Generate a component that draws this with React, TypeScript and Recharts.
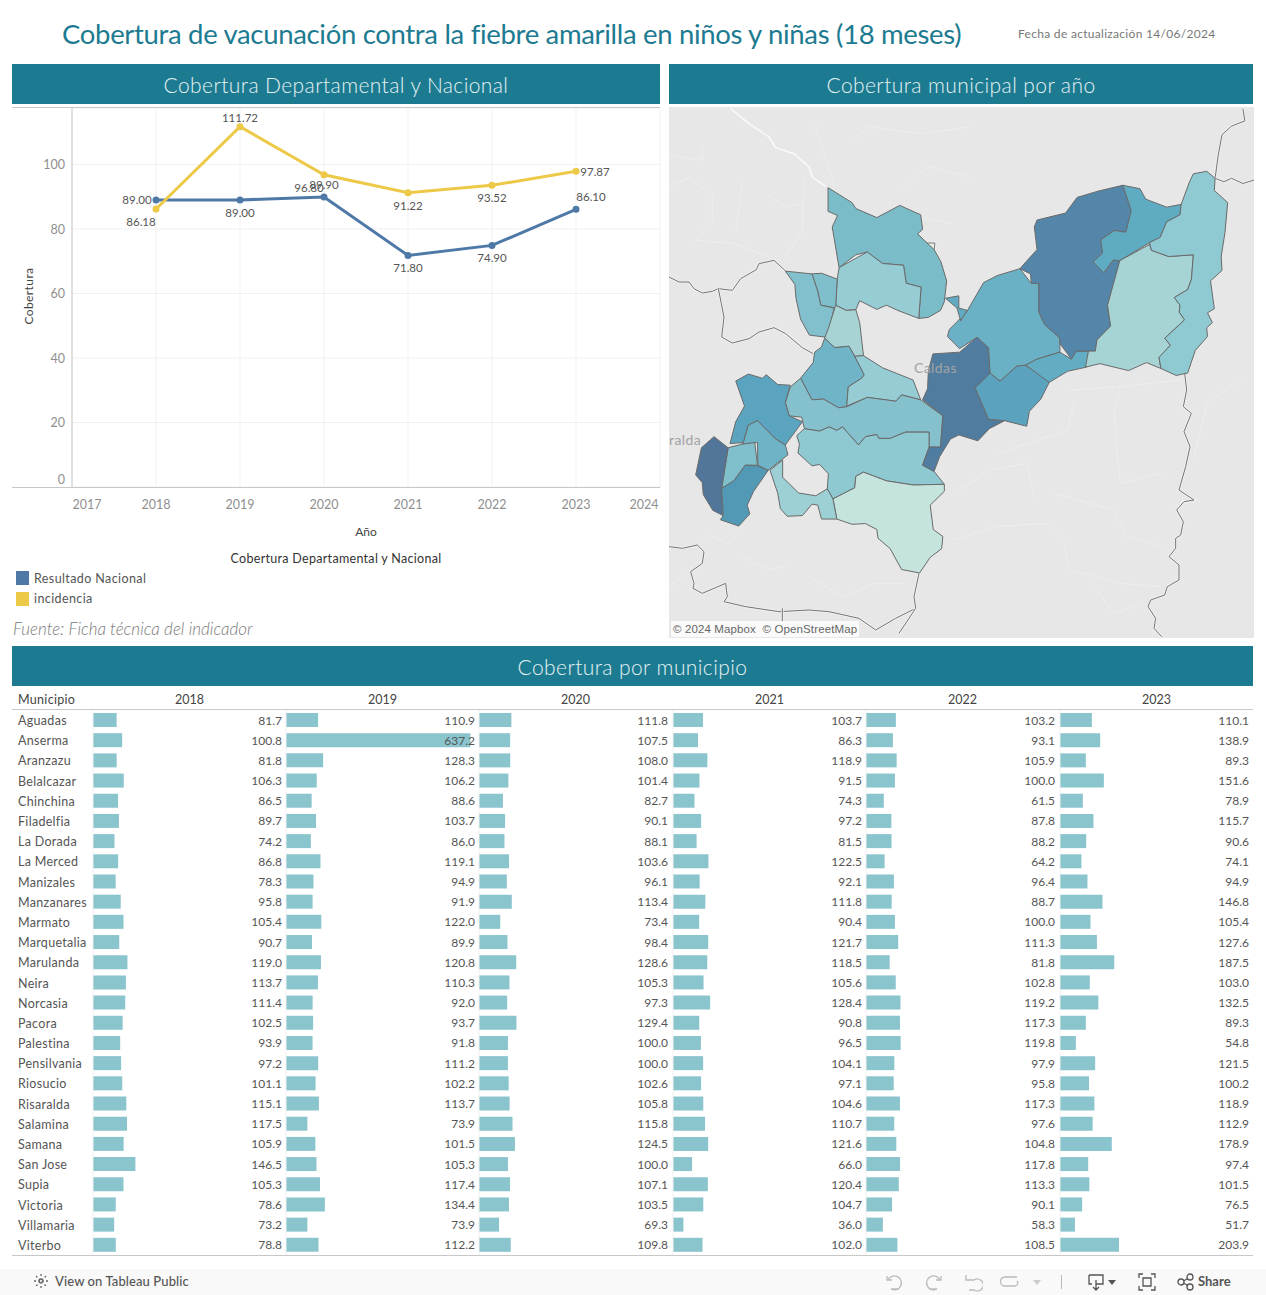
import { CSSProperties, ReactNode } from "react";
import {
  Bar,
  BarChart,
  CartesianGrid,
  LabelList,
  Line,
  LineChart,
  Polygon,
  Scatter,
  ScatterChart,
  XAxis,
  YAxis,
} from "recharts";

const FONT = "Lato, 'Open Sans', sans-serif";
const TEAL = "#1d7b91";

// line chart
const years = [2018, 2019, 2020, 2021, 2022, 2023];
const nacional = [89.0, 89.0, 89.9, 71.8, 74.9, 86.1];
const incidencia = [86.18, 111.72, 96.8, 91.22, 93.52, 97.87];
const yearTicks = [2017, 2018, 2019, 2020, 2021, 2022, 2023, 2024];
const coverTicks = [0, 20, 40, 60, 80, 100];
const lineData = years.map((year, i) => ({ year, nacional: nacional[i], incidencia: incidencia[i] }));

// table
const municipios = [
  "Aguadas", "Anserma", "Aranzazu", "Belalcazar", "Chinchina", "Filadelfia", "La Dorada", "La Merced", "Manizales",
  "Manzanares", "Marmato", "Marquetalia", "Marulanda", "Neira", "Norcasia", "Pacora", "Palestina", "Pensilvania",
  "Riosucio", "Risaralda", "Salamina", "Samana", "San Jose", "Supia", "Victoria", "Villamaria", "Viterbo",
];
const v2018 = [81.7, 100.8, 81.8, 106.3, 86.5, 89.7, 74.2, 86.8, 78.3, 95.8, 105.4, 90.7, 119.0, 113.7, 111.4, 102.5, 93.9, 97.2, 101.1, 115.1, 117.5, 105.9, 146.5, 105.3, 78.6, 73.2, 78.8];
const v2019 = [110.9, 637.2, 128.3, 106.2, 88.6, 103.7, 86.0, 119.1, 94.9, 91.9, 122.0, 89.9, 120.8, 110.3, 92.0, 93.7, 91.8, 111.2, 102.2, 113.7, 73.9, 101.5, 105.3, 117.4, 134.4, 73.9, 112.2];
const v2020 = [111.8, 107.5, 108.0, 101.4, 82.7, 90.1, 88.1, 103.6, 96.1, 113.4, 73.4, 98.4, 128.6, 105.3, 97.3, 129.4, 100.0, 100.0, 102.6, 105.8, 115.8, 124.5, 100.0, 107.1, 103.5, 69.3, 109.8];
const v2021 = [103.7, 86.3, 118.9, 91.5, 74.3, 97.2, 81.5, 122.5, 92.1, 111.8, 90.4, 121.7, 118.5, 105.6, 128.4, 90.8, 96.5, 104.1, 97.1, 104.6, 110.7, 121.6, 66.0, 120.4, 104.7, 36.0, 102.0];
const v2022 = [103.2, 93.1, 105.9, 100.0, 61.5, 87.8, 88.2, 64.2, 96.4, 88.7, 100.0, 111.3, 81.8, 102.8, 119.2, 117.3, 119.8, 97.9, 95.8, 117.3, 97.6, 104.8, 117.8, 113.3, 90.1, 58.3, 108.5];
const v2023 = [110.1, 138.9, 89.3, 151.6, 78.9, 115.7, 90.6, 74.1, 94.9, 146.8, 105.4, 127.6, 187.5, 103.0, 132.5, 89.3, 54.8, 121.5, 100.2, 118.9, 112.9, 178.9, 97.4, 101.5, 76.5, 51.7, 203.9];
const tableYears = ["2018", "2019", "2020", "2021", "2022", "2023"];
const tableSeries = [v2018, v2019, v2020, v2021, v2022, v2023];
const tableLefts = [93, 286, 479, 673, 866, 1060];

// map outlines
type Pt = [number, number];
const regiones: { fill: string; pts: Pt[] }[] = [
  { fill: "#7bbcc9", pts: [[417,252],[480,295],[490,312],[545,338],[605,303],[660,330],[665,372],[652,385],[695,430],[713,465],[728,520],[722,580],[712,605],[680,625],[655,628],[661,538],[622,527],[615,475],[560,470],[520,437],[490,445],[446,482],[428,365],[442,332],[417,320]] },
  { fill: "#96ccd3", pts: [[446,482],[490,455],[520,437],[560,470],[615,475],[622,527],[661,538],[655,628],[600,605],[570,590],[545,602],[500,577],[490,603],[465,605],[437,590],[441,515]] },
  { fill: "#7fbecb", pts: [[375,500],[400,498],[441,515],[437,598],[398,590],[390,550]] },
  { fill: "#82c0cd", pts: [[305,492],[375,500],[390,550],[398,590],[433,598],[422,650],[412,682],[368,676],[345,630],[333,570],[330,530]] },
  { fill: "#a7d3d4", pts: [[437,590],[465,605],[490,603],[500,640],[510,735],[487,737],[472,708],[435,712],[408,685],[420,650]] },
  { fill: "#70b4c7", pts: [[408,685],[435,712],[472,708],[487,737],[512,790],[505,800],[470,825],[466,882],[445,885],[405,860],[375,862],[345,800],[378,755],[382,725],[400,710]] },
  { fill: "#96ccd3", pts: [[487,737],[510,735],[560,770],[640,805],[660,862],[610,848],[595,866],[520,855],[466,880],[470,825],[505,800],[512,790]] },
  { fill: "#85c1cd", pts: [[345,800],[375,862],[405,860],[445,885],[466,882],[520,855],[595,866],[610,848],[660,862],[718,908],[712,998],[682,998],[682,955],[620,955],[580,973],[550,973],[545,962],[515,968],[497,992],[455,940],[440,950],[420,940],[395,952],[355,945],[348,912],[315,908],[305,870],[318,825]] },
  { fill: "#8ec8d1", pts: [[335,965],[355,945],[395,952],[420,940],[440,950],[455,940],[497,992],[515,968],[545,962],[550,973],[580,973],[620,955],[682,955],[682,998],[665,1050],[695,1068],[722,1105],[640,1107],[570,1095],[510,1070],[490,1082],[487,1115],[430,1147],[415,1118],[418,1075],[395,1048],[375,1052],[338,1015],[342,990]] },
  { fill: "#c5e4dd", pts: [[510,1070],[570,1095],[640,1107],[722,1105],[722,1125],[685,1165],[693,1235],[718,1255],[715,1290],[685,1315],[657,1360],[610,1350],[580,1290],[548,1260],[545,1235],[515,1218],[480,1220],[440,1205],[430,1147],[487,1115],[490,1082]] },
  { fill: "#9dd0d5", pts: [[265,1065],[298,1035],[298,1085],[340,1130],[385,1138],[415,1118],[430,1147],[440,1205],[400,1205],[390,1165],[375,1162],[350,1195],[310,1197],[292,1175],[285,1130]] },
  { fill: "#5ba4bf", pts: [[175,808],[208,788],[245,800],[255,790],[285,818],[318,820],[305,870],[315,908],[350,925],[305,992],[280,975],[232,922],[208,935],[195,985],[160,988],[175,925],[198,880]] },
  { fill: "#6fb3c6", pts: [[208,935],[232,922],[280,975],[305,992],[312,1020],[260,1065],[233,1050],[232,985],[190,990],[195,985]] },
  { fill: "#7fc0cc", pts: [[155,1000],[190,990],[225,985],[232,1050],[200,1050],[170,1095],[138,1117]] },
  { fill: "#52769a", pts: [[118,968],[155,1000],[138,1117],[142,1195],[115,1180],[90,1135],[87,1100],[70,1078],[85,1000]] },
  { fill: "#5299b6", pts: [[200,1050],[233,1052],[260,1065],[222,1125],[205,1165],[212,1190],[183,1225],[135,1207],[142,1195],[138,1117],[170,1095]] },
  { fill: "#507d9f", pts: [[692,730],[762,725],[808,682],[838,712],[842,785],[803,828],[838,918],[880,922],[840,945],[810,980],[760,963],[738,975],[710,1025],[695,1068],[665,1050],[682,998],[712,998],[718,908],[665,862],[678,830],[680,780]] },
  { fill: "#5aa2be", pts: [[842,785],[868,808],[912,765],[932,762],[975,790],[997,812],[975,860],[945,895],[938,938],[880,922],[838,918],[803,828]] },
  { fill: "#6bb1c5", pts: [[920,485],[950,527],[970,528],[970,610],[985,645],[1025,685],[1025,725],[965,745],[935,762],[912,765],[868,808],[842,785],[838,712],[808,682],[762,715],[730,680],[735,660],[780,610],[825,525],[860,505]] },
  { fill: "#60abc1", pts: [[725,570],[760,563],[760,598],[782,605],[765,635],[755,598]] },
  { fill: "#62adc3", pts: [[1025,725],[1055,745],[1068,722],[1100,722],[1095,768],[1045,780],[997,812],[935,762],[965,745]] },
  { fill: "#5486a9", pts: [[1070,280],[1125,262],[1190,245],[1212,318],[1198,380],[1168,375],[1132,402],[1137,440],[1112,465],[1140,497],[1165,460],[1182,462],[1165,530],[1150,590],[1158,650],[1122,690],[1118,722],[1068,722],[1055,745],[1025,700],[1025,685],[985,645],[970,610],[970,528],[950,527],[948,500],[920,485],[965,430],[958,365],[965,345],[1040,325]] },
  { fill: "#5fabc2", pts: [[1190,245],[1235,255],[1250,285],[1305,308],[1343,300],[1340,330],[1305,350],[1288,395],[1260,410],[1182,462],[1165,460],[1140,497],[1112,465],[1137,440],[1132,402],[1168,375],[1198,380],[1212,318]] },
  { fill: "#a6d3d4", pts: [[1260,415],[1265,432],[1310,450],[1375,445],[1370,515],[1360,545],[1325,568],[1340,590],[1338,610],[1352,632],[1300,685],[1315,705],[1285,740],[1290,772],[1252,755],[1205,778],[1130,758],[1092,768],[1100,722],[1118,722],[1122,690],[1158,650],[1150,590],[1165,530],[1182,462]] },
  { fill: "#8fc9d1", pts: [[1410,205],[1432,225],[1430,260],[1465,295],[1458,380],[1448,450],[1450,490],[1420,520],[1430,600],[1412,612],[1425,640],[1410,655],[1412,680],[1380,720],[1360,785],[1330,792],[1290,772],[1285,740],[1315,705],[1300,685],[1352,632],[1338,610],[1340,590],[1325,568],[1360,545],[1370,515],[1375,445],[1310,450],[1265,432],[1260,410],[1288,395],[1305,350],[1340,330],[1343,300],[1365,235],[1375,212]] },
];

// same axis units as the regions, from a 3x crop whose corner sits at (cx, cy) on the page
const fromCrop = (cx: number, cy: number, pts: Pt[]): Pt[] =>
  pts.map(([x, y]) => [((cx + x / 3 - 669) * 1534) / 585, ((cy + y / 3 - 107) * 1527) / 531 + 20]);

const bordes: Pt[][] = [
  [[1505,25],[1510,60],[1475,75],[1450,100],[1440,160],[1432,225]],
  [[1432,225],[1455,235],[1475,225],[1505,240],[1534,230]],
  fromCrop(669, 107, [[0,510],[30,525],[60,525],[75,545],[100,558],[130,553],[148,545],[190,550],[215,515],[262,488],[270,470],[315,460],[350,492]]),
  fromCrop(669, 107, [[148,545],[165,630],[158,690],[190,708],[240,695],[270,675],[315,662],[350,680],[400,722],[432,740]]),
  fromCrop(669, 107, [[745,380],[770,408],[798,408],[795,430]]),
  fromCrop(669, 370, [[0,530],[40,535],[85,525],[105,545],[100,580],[65,605],[75,640],[72,655],[100,670],[170,640],[175,680],[165,695],[230,710],[330,725],[420,720],[480,725],[570,745],[620,780],[680,745],[740,715],[735,680],[750,610]]),
  fromCrop(669, 370, [[340,715],[340,755]]),
  fromCrop(669, 370, [[740,715],[690,790]]),
  fromCrop(954, 370, [[692,10],[698,60],[688,110],[712,130],[690,185],[708,230],[695,290],[675,360],[720,390],[690,395],[668,420],[688,455],[680,495],[665,505],[665,535],[645,560],[675,585],[675,630],[640,650],[632,675],[590,690],[582,710],[605,745],[600,775],[623,800]]),
];
const rioPrincipal: Pt[] = fromCrop(669, 107, [[185,5],[240,50],[300,90],[320,122],[375,140],[420,180],[430,210],[470,238]]);
const rios: Pt[][] = [
  fromCrop(669, 107, [[0,145],[100,160],[100,120]]),
  fromCrop(669, 107, [[0,240],[60,210],[130,265],[130,340],[80,400],[200,410],[300,450]]),
  fromCrop(669, 107, [[300,265],[350,300],[400,290]]),
  fromCrop(669, 107, [[405,220],[400,370],[350,450]]),
  fromCrop(669, 107, [[440,60],[460,130],[500,240]]),
  fromCrop(669, 107, [[550,100],[600,60],[760,80],[900,60]]),
  fromCrop(669, 107, [[700,240],[780,180],[900,210]]),
  fromCrop(669, 107, [[220,230],[200,370]]),
  fromCrop(669, 107, [[750,330],[850,350]]),
  fromCrop(669, 370, [[120,495],[180,520],[220,470]]),
  fromCrop(669, 370, [[0,650],[50,610]]),
  fromCrop(669, 370, [[220,560],[300,600],[360,585]]),
  fromCrop(669, 370, [[420,620],[520,680],[620,640],[700,640]]),
  fromCrop(954, 370, [[500,50],[480,110],[490,260],[500,340],[620,310]]),
  fromCrop(954, 370, [[0,370],[110,300],[220,280],[240,380]]),
  fromCrop(954, 370, [[300,370],[480,420],[520,500],[630,530]]),
  fromCrop(954, 370, [[0,510],[120,470],[280,460],[330,520],[345,600],[500,640],[620,650]]),
  fromCrop(954, 370, [[350,60],[500,50],[680,30]]),
  fromCrop(954, 370, [[130,250],[340,180],[360,100]]),
  fromCrop(954, 370, [[420,650],[480,730],[560,700]]),
  fromCrop(954, 370, [[720,260],[760,100],[870,20]]),
];

const asPoints = (pts: Pt[]) => pts.map(([x, y], i) => ({ x, y, i }));

// the scatter hands over each vertex after scaling, the last one draws the whole outline
const outlineShape = (count: number, draw: (pts: { x: number; y: number }[]) => ReactNode) => {
  const seen: { x: number; y: number }[] = [];
  return (props: any) => {
    seen[props.payload.i] = { x: props.cx, y: props.cy };
    return props.payload.i === count - 1 ? <>{draw(seen.slice())}</> : <g />;
  };
};

const toLine = (scaled: { x: number; y: number }[]) => scaled.map((p) => `${p.x},${p.y}`).join(" ");

const Txt = ({ x, y, children, style }: { x: number; y: number; children: ReactNode; style?: CSSProperties }) => (
  <div style={{ position: "absolute", left: x, top: y, lineHeight: 1, whiteSpace: "nowrap", fontFamily: FONT, ...style }}>
    {children}
  </div>
);

const Banner = ({ x, y, w, text }: { x: number; y: number; w: number; text: string }) => (
  <div
    style={{
      position: "absolute", left: x, top: y, width: w, height: 40, background: TEAL, color: "#e6f2f4",
      textAlign: "center", lineHeight: "42px", fontSize: 21, fontFamily: FONT, fontWeight: 300, letterSpacing: 0.4,
    }}
  >
    {text}
  </div>
);

const YearTick = ({ x, y, payload }: any) => {
  let shifted = x;
  if (payload.value === 2017) shifted = x + 15;
  if (payload.value === 2024) shifted = x - 16;
  return (
    <text x={shifted} y={y + 14} textAnchor="middle" fontSize={12.5} fill="#8f8f8f" fontFamily={FONT}>
      {payload.value}
    </text>
  );
};

const CoverTick = ({ x, y, payload }: any) => (
  <text x={x} y={payload.value === 0 ? y - 3 : y + 5} textAnchor="end" fontSize={12.5} fill="#8f8f8f" fontFamily={FONT}>
    {payload.value}
  </text>
);

const nacionalOffsets = [[-19, 0], [0, 13], [0, -12], [0, 13], [0, 13], [15, -12]];
const incidenciaOffsets = [[-15, 13], [0, -9], [-15, 13], [0, 13], [0, 13], [19, 1]];

const pointLabel = (offsets: number[][]) => (props: any) => {
  const [dx, dy] = offsets[props.index];
  return (
    <text x={props.x + dx} y={props.y + dy + 4} textAnchor="middle" fontSize={11.5} fill="#555" fontFamily={FONT}>
      {Number(props.value).toFixed(2)}
    </text>
  );
};

const LineTrend = () => (
  <div style={{ position: "absolute", left: 12, top: 100 }}>
    <LineChart width={649} height={450} data={lineData} margin={{ top: 8, right: 1, bottom: 0, left: 0 }}>
      <CartesianGrid stroke="#f1f1f1" />
      <XAxis
        type="number"
        dataKey="year"
        domain={[2017, 2024]}
        ticks={yearTicks}
        interval={0}
        height={63}
        tick={<YearTick />}
        tickLine={false}
        axisLine={false}
        label={{ value: "Año", position: "insideBottom", offset: 14, fontSize: 12, fill: "#444", fontFamily: FONT }}
      />
      <YAxis
        type="number"
        domain={[0, 117.5]}
        ticks={coverTicks}
        interval={0}
        width={60}
        tick={<CoverTick />}
        tickLine={false}
        axisLine={{ stroke: "#c8c8c8" }}
        tickMargin={1}
        label={{ value: "Cobertura", angle: -90, position: "insideLeft", offset: 17, dy: 27, fontSize: 12, fill: "#444", fontFamily: FONT, letterSpacing: 0.4 }}
      />
      <Line dataKey="nacional" stroke="#4e79a7" strokeWidth={3} dot={{ r: 2, fill: "#4e79a7", stroke: "#4e79a7" }} isAnimationActive={false}>
        <LabelList dataKey="nacional" content={pointLabel(nacionalOffsets)} />
      </Line>
      <Line dataKey="incidencia" stroke="#edc948" strokeWidth={3} dot={{ r: 2, fill: "#edc948", stroke: "#edc948" }} isAnimationActive={false}>
        <LabelList dataKey="incidencia" content={pointLabel(incidenciaOffsets)} />
      </Line>
    </LineChart>
    <div style={{ position: "absolute", left: 0, top: 7, width: 648, height: 1, background: "#c8c8c8" }} />
    <div style={{ position: "absolute", left: 0, top: 387, width: 648, height: 1, background: "#c8c8c8" }} />
  </div>
);

const MapaMunicipal = () => (
  <div style={{ position: "absolute", left: 669, top: 107, width: 585, height: 531, background: "#e7e7e7", overflow: "hidden" }}>
    <ScatterChart width={585} height={531} margin={{ top: 0, right: 0, bottom: 0, left: 0 }}>
      <XAxis type="number" dataKey="x" domain={[0, 1534]} hide />
      <YAxis type="number" dataKey="y" domain={[20, 1547]} reversed hide />
      {rios.map((pts, i) => (
        <Scatter
          key={`rio-${i}`}
          data={asPoints(pts)}
          isAnimationActive={false}
          shape={outlineShape(pts.length, (scaled) => (
            <polyline points={toLine(scaled)} fill="none" stroke="#eeeeee" strokeWidth={1} />
          ))}
        />
      ))}
      <Scatter
        data={asPoints(rioPrincipal)}
        isAnimationActive={false}
        shape={outlineShape(rioPrincipal.length, (scaled) => (
          <polyline points={toLine(scaled)} fill="none" stroke="#fafafa" strokeWidth={1.5} />
        ))}
      />
      {bordes.map((pts, i) => (
        <Scatter
          key={`borde-${i}`}
          data={asPoints(pts)}
          isAnimationActive={false}
          shape={outlineShape(pts.length, (scaled) => (
            <>
              <polyline points={toLine(scaled)} fill="none" stroke="#f2f2f2" strokeWidth={2.5} />
              <polyline points={toLine(scaled)} fill="none" stroke="#737373" strokeWidth={1} />
            </>
          ))}
        />
      ))}
      {regiones.map((r, i) => (
        <Scatter
          key={`region-${i}`}
          data={asPoints(r.pts)}
          isAnimationActive={false}
          shape={outlineShape(r.pts.length, (scaled) => (
            <Polygon points={scaled} fill={r.fill} stroke="#6a6a6a" strokeWidth={1} />
          ))}
        />
      ))}
    </ScatterChart>
    <Txt x={245} y={254} style={{ fontSize: 14, color: "#a3a3a3", letterSpacing: 0.4 }}>Caldas</Txt>
    <Txt x={0} y={326} style={{ fontSize: 14, color: "#a3a3a3", letterSpacing: 0.4 }}>ralda</Txt>
    <div
      style={{
        position: "absolute", left: 2, top: 514, padding: "1px 2px", background: "rgba(255,255,255,0.8)", color: "#666",
        fontSize: 11.5, letterSpacing: 0.12, fontFamily: "'Liberation Sans', sans-serif", lineHeight: "14px", whiteSpace: "nowrap",
      }}
    >
      © 2024 Mapbox&nbsp; © OpenStreetMap
    </div>
  </div>
);

const rowData = (values: number[]) => municipios.map((name, i) => ({ name, value: values[i] }));

const NameTick = ({ y, payload }: any) => (
  <text x={6} y={y + 5} fontSize={12.5} fill="#555" fontFamily={FONT} letterSpacing={0.3}>
    {payload.value}
  </text>
);

const valueLabel = (right: number) => (props: any) => (
  <text x={right} y={props.y + props.height / 2 + 4.5} textAnchor="end" fontSize={12} fill="#555" fontFamily={FONT}>
    {Number(props.value).toFixed(1)}
  </text>
);

const YearColumn = ({ values, left, first }: { values: number[]; left: number; first: boolean }) => {
  const offset = first ? 81 : 1;
  return (
    <div style={{ position: "absolute", left: left - offset - (first ? 0.5 : 0), top: 710 }}>
      <BarChart
        layout="vertical"
        width={193 + offset}
        height={545}
        data={rowData(values)}
        barCategoryGap={3}
        margin={{ top: 0, right: 0, bottom: 0, left: 0 }}
      >
        <XAxis type="number" domain={[0, 667]} hide />
        <YAxis
          type="category"
          dataKey="name"
          width={offset}
          interval={0}
          tick={first ? <NameTick /> : false}
          tickLine={false}
          axisLine={{ stroke: "#f0f0f0" }}
        />
        <Bar dataKey="value" fill="#8ac4cd" isAnimationActive={false}>
          <LabelList dataKey="value" content={valueLabel(offset + 189)} />
        </Bar>
      </BarChart>
    </div>
  );
};

const Tabla = () => (
  <>
    <Txt x={18} y={694} style={{ fontSize: 12.5, color: "#444", letterSpacing: 0.3 }}>Municipio</Txt>
    {tableYears.map((y, i) => (
      <div
        key={y}
        style={{
          position: "absolute", left: tableLefts[i], top: 694, width: 193, textAlign: "center", lineHeight: 1,
          fontSize: 12.5, color: "#444", fontFamily: FONT,
        }}
      >
        {y}
      </div>
    ))}
    {tableSeries.map((values, i) => (
      <YearColumn key={i} values={values} left={tableLefts[i]} first={i === 0} />
    ))}
    <div style={{ position: "absolute", left: 12, top: 709, width: 1241, height: 1, background: "#c8c8c8" }} />
    <div style={{ position: "absolute", left: 12, top: 1255, width: 1241, height: 1, background: "#c8c8c8" }} />
  </>
);

const Icon = ({ x, children, w = 20 }: { x: number; children: ReactNode; w?: number }) => (
  <svg style={{ position: "absolute", left: x, top: 1272 }} width={w} height={20} fill="none" strokeWidth={1.3}>
    {children}
  </svg>
);

const Toolbar = () => (
  <>
    <div style={{ position: "absolute", left: 0, top: 1269, width: 1266, height: 26, background: "#f9f9f9" }} />
    <Icon x={32}>
      <path d="M9 2v14M2 9h14M4 4l10 10M14 4L4 14" stroke="#666" strokeDasharray="2 2" />
    </Icon>
    <Txt x={55} y={1275} style={{ fontSize: 13, color: "#555", fontWeight: 500, letterSpacing: 0.1 }}>View on Tableau Public</Txt>
    <Icon x={884}><path d="M3 4v4h5M4 8a7 7 0 1 1 3 9h8" stroke="#bbb" /></Icon>
    <Icon x={924}><path d="M17 4v4h-5M16 8a7 7 0 1 0-3 9h-8" stroke="#bbb" /></Icon>
    <Icon x={963}><path d="M3 3v5h5M3 8h8a6 6 0 1 1 0 10H6" stroke="#bbb" /></Icon>
    <Icon x={1000}><path d="M17 5H5a3 3 0 0 0 0 9h10a3 3 0 0 0 2-5" stroke="#bbb" /></Icon>
    <Icon x={1030}><path d="M3 8h8l-4 5z" fill="#ccc" /></Icon>
    <div style={{ position: "absolute", left: 1061, top: 1275, width: 1, height: 14, background: "#bbb" }} />
    <Icon x={1086}><path d="M3 3h14v9h-7M10 8v10M7 15l3 3 3-3M3 3v9h3" stroke="#555" /></Icon>
    <Icon x={1106}><path d="M2 8h8l-4 5z" fill="#555" /></Icon>
    <Icon x={1137}><path d="M2 6V2h4M14 2h4v4M18 14v4h-4M6 18H2v-4M6 6h8v8H6z" stroke="#555" /></Icon>
    <Icon x={1176}><path d="M6 10l8-5M6 10l8 5" stroke="#555" /><circle cx={5} cy={10} r={3} stroke="#555" fill="#f9f9f9" /><circle cx={14} cy={5} r={3} stroke="#555" fill="#f9f9f9" /><circle cx={14} cy={15} r={3} stroke="#555" fill="#f9f9f9" /></Icon>
    <Txt x={1198} y={1275} style={{ fontSize: 13, color: "#555", fontWeight: 700 }}>Share</Txt>
  </>
);

export default function App() {
  return (
    <div style={{ position: "absolute", left: 0, top: 0, width: 1266, height: 1295, background: "#fff", overflow: "hidden" }}>
      <Txt x={62} y={20} style={{ fontSize: 27.5, color: TEAL, letterSpacing: -0.32 }}>
        Cobertura de vacunación contra la fiebre amarilla en niños y niñas (18 meses)
      </Txt>
      <Txt x={1018} y={28} style={{ fontSize: 12, color: "#777", letterSpacing: 0.3 }}>Fecha de actualización 14/06/2024</Txt>

      <Banner x={12} y={64} w={648} text="Cobertura Departamental y Nacional" />
      <Banner x={669} y={64} w={584} text="Cobertura municipal por año" />
      <Banner x={12} y={646} w={1241} text="Cobertura por municipio" />

      <LineTrend />
      <div style={{ position: "absolute", left: 12, top: 553, width: 648, textAlign: "center", lineHeight: 1, fontSize: 12.5, color: "#333", fontFamily: FONT, letterSpacing: 0.3 }}>
        Cobertura Departamental y Nacional
      </div>
      <div style={{ position: "absolute", left: 16, top: 571, width: 13, height: 14, background: "#4e79a7" }} />
      <div style={{ position: "absolute", left: 16, top: 592, width: 13, height: 14, background: "#edc948" }} />
      <Txt x={34} y={573} style={{ fontSize: 12.5, color: "#555", letterSpacing: 0.4 }}>Resultado Nacional</Txt>
      <Txt x={34} y={593} style={{ fontSize: 12.5, color: "#555", letterSpacing: 0.4 }}>incidencia</Txt>
      <Txt x={13} y={620} style={{ fontSize: 17, color: "#7a7a7a", fontStyle: "italic", fontWeight: 300 }}>Fuente: Ficha técnica del indicador</Txt>

      <MapaMunicipal />
      <Tabla />
      <Toolbar />
    </div>
  );
}
